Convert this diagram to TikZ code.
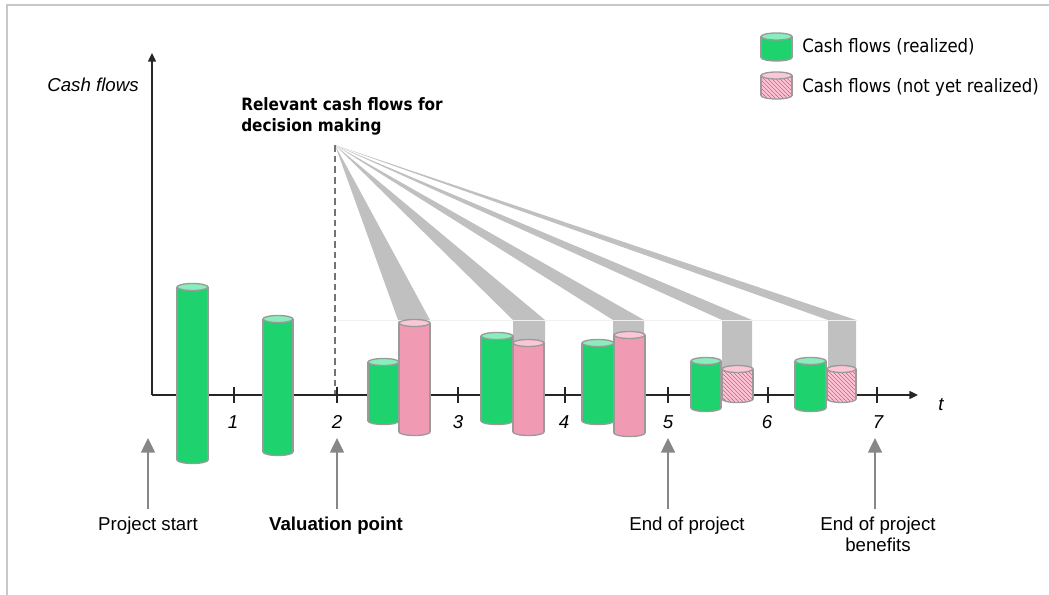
\documentclass[tikz,border=0pt]{standalone}
\usepackage{fontspec}
\setmainfont{Liberation Sans}
\newfontfamily\tahoma[FakeStretch=0.9]{DejaVu Sans}
\usetikzlibrary{arrows.meta,patterns}

\definecolor{verde}{HTML}{1ED26E}
\definecolor{verdeclaro}{HTML}{88EEBB}
\definecolor{rosa}{HTML}{F09AB4}
\definecolor{rosaclaro}{HTML}{FBC6D6}
\definecolor{rosarayas}{HTML}{E4587F}
\definecolor{borde}{HTML}{9A9A9A}
\definecolor{hazgris}{HTML}{C0C0C0}
\definecolor{marco}{HTML}{C8C8C8}

% Cilindro: x izq, x der, y tapa, y base, cuerpo, tapa
\newcommand{\cilindro}[6]{%
  \filldraw[#5,contorno] ({(#1+#2)/2},#4) ellipse [x radius={(#2-#1)/2}, y radius=3.5];
  \fill[#5] (#1,#3) rectangle (#2,#4);
  \draw[contorno] (#1,#3) -- (#1,#4) (#2,#3) -- (#2,#4);
  \filldraw[#6,contorno] ({(#1+#2)/2},#3) ellipse [x radius={(#2-#1)/2}, y radius=3.5];
}
% Haz gris desde el apice hasta un cilindro
\newcommand{\haz}[3]{%
  \fill[hazgris] (apice) -- (#1,320) -- (#1,#3) -- (#2,#3) -- (#2,320) -- cycle;
}

\begin{document}
\begin{tikzpicture}[x=0.75pt,y=-0.75pt,
    contorno/.style={draw=borde,line width=1pt},
    cverde/.style={fill=verde},
    tverde/.style={fill=verdeclaro},
    crosa/.style={fill=rosa},
    trosa/.style={fill=rosaclaro},
    crayado/.style={preaction={fill=rosaclaro},pattern=north west lines,pattern color=rosarayas},
    ejes/.style={line width=1pt,black!85,-{Triangle[length=6.5pt,width=6pt]}},
    marca/.style={line width=0.8pt,black!85},
    italica/.style={inner sep=0,font=\fontsize{14}{16}\selectfont\itshape},
    etiqueta/.style={anchor=north,inner sep=0,align=center,font=\fontsize{14}{15.75}\selectfont},
    flecha/.style={line width=1.1pt,black!47,shorten <=6pt,-{Triangle[length=11pt,width=10.5pt]}},
    leyenda/.style={anchor=west,inner sep=0,font=\tahoma\fontsize{13.8}{16}\selectfont}]
    \useasboundingbox (0,0) rectangle (1049,595);

    % Marco
    \draw[marco,line width=1.1pt] (7,595) -- (7,5) -- (1049,5);

    % Haces
    \coordinate (apice) at (335,145);
    \haz{398}{430}{323}
    \haz{513}{545}{343}
    \haz{613}{644}{335}
    \haz{722}{752}{369}
    \haz{828}{856}{369}
    \draw[black!6,line width=0.6pt] (335,320) -- (858,320);

    % Punto de valoracion
    \draw[black!55,line width=1.1pt,dash pattern=on 5pt off 3pt] (apice) -- (335,395);
    \node[anchor=north west,inner sep=0,align=left,font=\tahoma\bfseries\fontsize{12.75}{15.75}\selectfont]
        (rel) at (241,97) {Relevant cash flows for\\decision making};

    % Ejes
    \draw[ejes] (152,395) -- (918,395);
    \draw[ejes] (152,395) -- (152,53);
    \node[italica] (ycf) at (93,85) {Cash flows};
    \node[italica] (tt) at (941,405) {t};

    % Marcas
    \draw[marca] (234,387) -- (234,403);
    \draw[marca] (337,387) -- (337,403);
    \draw[marca] (458,387) -- (458,403);
    \draw[marca] (565,387) -- (565,403);
    \draw[marca] (668,387) -- (668,403);
    \draw[marca] (768,387) -- (768,403);
    \draw[marca] (877,387) -- (877,403);
    \node[italica] (n1) at (233,422) {1};
    \node[italica] (n2) at (337,422) {2};
    \node[italica] (n3) at (458,422) {3};
    \node[italica] (n4) at (564,422) {4};
    \node[italica] (n5) at (668,422) {5};
    \node[italica] (n6) at (767,422) {6};
    \node[italica] (n7) at (878,422) {7};

    % Flujos
    \cilindro{177}{208}{287}{460}{cverde}{tverde}
    \cilindro{263}{293}{319}{452}{cverde}{tverde}
    \cilindro{368}{399}{362}{421}{cverde}{tverde}
    \cilindro{399}{430}{323}{432}{crosa}{trosa}
    \cilindro{481}{513}{336}{421}{cverde}{tverde}
    \cilindro{513}{544}{343}{432}{crosa}{trosa}
    \cilindro{582}{614}{343}{421}{cverde}{tverde}
    \cilindro{614}{645}{335}{433}{crosa}{trosa}
    \cilindro{691}{721}{361}{408}{cverde}{tverde}
    \cilindro{722}{753}{369}{399}{crayado}{trosa}
    \cilindro{795}{826}{361}{408}{cverde}{tverde}
    \cilindro{827}{856}{369}{399}{crayado}{trosa}

    % Leyenda
    \cilindro{761}{792}{36.5}{57.5}{cverde}{tverde}
    \cilindro{761}{792}{75.5}{95.5}{crayado}{trosa}
    \node[leyenda] (ley1) at (802,47) {Cash flows (realized)};
    \node[leyenda] (ley2) at (802,87) {Cash flows (not yet realized)};

    % Hitos
    \coordinate (p0) at (148,438);
    \coordinate (p2) at (337,438);
    \coordinate (p5) at (668,438);
    \coordinate (p7) at (875,438);
    \node[etiqueta] (inicio) at (148,517) {Project start};
    \node[etiqueta] (valor) at (336,517) {\bfseries Valuation point};
    \node[etiqueta] (fin) at (687,517) {End of project};
    \node[etiqueta] (finb) at (878,517) {End of project\\benefits};
    \draw[flecha] (p0 |- inicio.north) -- (p0);
    \draw[flecha] (p2 |- valor.north) -- (p2);
    \draw[flecha] (p5 |- fin.north) -- (p5);
    \draw[flecha] (p7 |- finb.north) -- (p7);
\end{tikzpicture}
\end{document}
